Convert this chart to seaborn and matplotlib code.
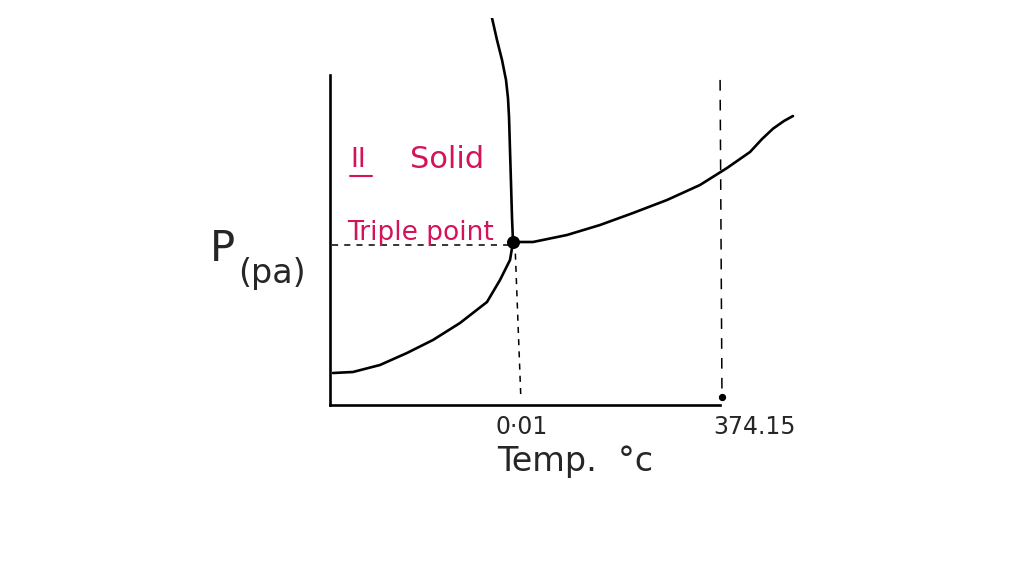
import matplotlib
matplotlib.use("Agg")
import matplotlib.pyplot as plt
import seaborn as sns
import pandas as pd

sns.set_theme(style="white")
plt.rcParams['font.family'] = ['DejaVu Sans']

# sketch units (0-100 on both axes)
sub_x = [0.64, 4.89, 10.64, 16.38, 21.91, 27.66, 33.40, 36.17, 38.30, 38.94]
sub_y = [8.27, 8.53, 10.34, 13.44, 16.80, 21.19, 26.61, 32.30, 37.47, 42.12]
fus_x = [38.94, 38.72, 38.51, 38.30, 38.09, 37.87, 37.45, 36.60, 35.53, 34.47]
fus_y = [42.12, 48.58, 57.36, 65.89, 74.42, 79.30, 83.98, 89.15, 94.32, 100.0]
vap_x = [38.94, 43.19, 50.43, 57.45, 64.47, 71.70, 78.72, 84.47, 89.36, 91.90, 94.26, 96.60, 98.51]
vap_y = [42.12, 42.12, 43.93, 46.51, 49.61, 52.97, 56.85, 61.24, 65.37, 68.70, 71.40, 73.40, 74.68]
triple = (38.94, 42.12)
crit_x = 83.0
tick_pos = [40.8, 90.4]
tick_labels = ["0·01", "374.15"]
red = "#d4145a"

fig = plt.figure(figsize=(10.24, 5.76), dpi=100)
ax = fig.add_axes([330/1024, (576-405)/576, 470/1024, 387/576])
ax.set_xlim(0, 100)
ax.set_ylim(0, 100)

for xs, ys in [(sub_x, sub_y), (fus_x, fus_y), (vap_x, vap_y)]:
    df = pd.DataFrame({"x": xs, "y": ys})
    sns.lineplot(data=df, x="x", y="y", sort=False, estimator=None,
                 color="black", linewidth=1.9, ax=ax,
                 solid_capstyle="round", solid_joinstyle="round")

# dashed guides
ax.plot([0.5, triple[0]], [41.3, 41.3], ls=(0, (4, 4)), color="black", lw=1.1)
ax.plot([triple[0] + 0.5, 40.6], [triple[1] - 3, 2.0], ls=(0, (4, 4)), color="black", lw=1.1)
ax.plot([crit_x, crit_x + 0.4], [84, 2], ls=(0, (7, 6)), color="black", lw=1.1)

ax.scatter([triple[0]], [triple[1]], s=70, color="black", zorder=5)
ax.scatter([crit_x + 0.4], [2.0], s=18, color="black", zorder=5)

# axes
for s in ["top", "right"]:
    ax.spines[s].set_visible(False)
ax.spines["left"].set_bounds(0, 85.3)
ax.spines["bottom"].set_bounds(0, 83.0)
for s in ["left", "bottom"]:
    ax.spines[s].set_linewidth(1.9)
    ax.spines[s].set_color("black")
ax.set_yticks([])
ax.set_xticks(tick_pos)
ax.set_xticklabels(tick_labels, fontsize=17)
ax.tick_params(axis="x", length=0, pad=7)
ax.set_xlabel("")
ax.set_ylabel("")

# labels
ax.text((575-330)/4.7, (405-462)/3.87, "Temp.  °c", fontsize=24,
        ha="center", va="center", clip_on=False)
ax.text((222-330)/4.7, (405-249)/3.87, "P", fontsize=30, ha="center", va="center", clip_on=False)
ax.text((272-330)/4.7, (405-274)/3.87, "(pa)", fontsize=24, ha="center", va="center", clip_on=False)
ax.text((350-330)/4.7, (405-160)/3.87, "II", fontsize=19, color=red, ha="left", va="center")
ax.plot([(350-330)/4.7, (372-330)/4.7], [(405-176)/3.87] * 2, color=red, lw=1.5)
ax.text((410-330)/4.7, (405-160)/3.87, "Solid", fontsize=22, color=red, ha="left", va="center")
ax.text((347-330)/4.7, (405-233)/3.87, "Triple point", fontsize=19, color=red, ha="left", va="center")

fig.savefig("out.png", dpi=100)
